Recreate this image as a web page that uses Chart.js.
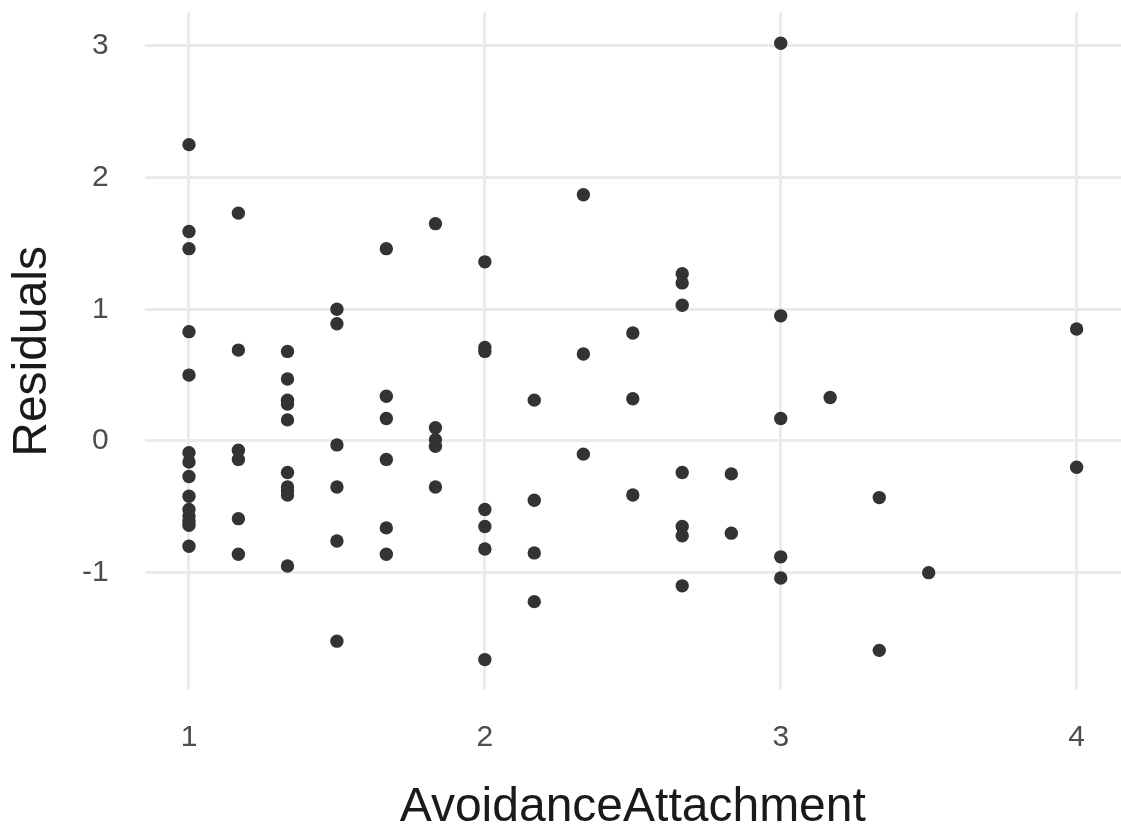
<!DOCTYPE html>
<html>
<head>
<meta charset="utf-8">
<script src="https://cdn.jsdelivr.net/npm/chart.js@4"></script>
<style>
  html, body { margin: 0; padding: 0; background: #ffffff; }
  #wrap { width: 1121px; height: 832px; }
</style>
</head>
<body>
<div id="wrap"><canvas id="c" width="1121" height="832"></canvas></div>
<script>
// Residuals against avoidance attachment score
const xTicks = [1, 2, 3, 4];
const yTicks = [-1, 0, 1, 2, 3];

const avoidance = [
  1, 1, 1, 1, 1, 1, 1, 1, 1, 1, 1, 1, 1, 1,
  1.167, 1.167, 1.167, 1.167, 1.167, 1.167,
  1.333, 1.333, 1.333, 1.333, 1.333, 1.333, 1.333, 1.333, 1.333, 1.333,
  1.5, 1.5, 1.5, 1.5, 1.5, 1.5,
  1.667, 1.667, 1.667, 1.667, 1.667, 1.667,
  1.833, 1.833, 1.833, 1.833, 1.833,
  2, 2, 2, 2, 2, 2, 2,
  2.167, 2.167, 2.167, 2.167,
  2.333, 2.333, 2.333,
  2.5, 2.5, 2.5,
  2.667, 2.667, 2.667, 2.667, 2.667, 2.667, 2.667,
  2.833, 2.833,
  3, 3, 3, 3, 3,
  3.167,
  3.333, 3.333,
  3.5,
  4, 4
];

const residuals = [
  2.25, 1.59, 1.46, 0.83, 0.50, -0.09, -0.16, -0.27, -0.42, -0.52, -0.57, -0.61, -0.64, -0.80,
  1.73, 0.69, -0.07, -0.14, -0.59, -0.86,
  0.68, 0.47, 0.31, 0.28, 0.16, -0.24, -0.35, -0.38, -0.41, -0.95,
  1.00, 0.89, -0.03, -0.35, -0.76, -1.52,
  1.46, 0.34, 0.17, -0.14, -0.66, -0.86,
  1.65, 0.10, 0.01, -0.04, -0.35,
  1.36, 0.71, 0.68, -0.52, -0.65, -0.82, -1.66,
  0.31, -0.45, -0.85, -1.22,
  1.87, 0.66, -0.10,
  0.82, 0.32, -0.41,
  1.27, 1.20, 1.03, -0.24, -0.65, -0.72, -1.10,
  -0.25, -0.70,
  3.02, 0.95, 0.17, -0.88, -1.04,
  0.33,
  -0.43, -1.59,
  -1.00,
  0.85, -0.20
];

const points = avoidance.map((x, i) => ({ x: x, y: residuals[i] }));

const gridColor = '#EBEBEB';
const tickColor = '#4D4D4D';
const fontFamily = '"Liberation Sans", Arial, Helvetica, sans-serif';

// keep the panel edges where the layout box puts them (no label overhang padding)
function noOverhang(s) {
  s.paddingTop = 0;
  s.paddingBottom = 0;
  s.paddingLeft = 0;
  s.paddingRight = 0;
}

new Chart(document.getElementById('c'), {
  type: 'scatter',
  data: {
    datasets: [{
      data: points,
      backgroundColor: '#333333',
      borderWidth: 0,
      pointRadius: 6.7,
      pointHoverRadius: 6.7
    }]
  },
  options: {
    responsive: false,
    animation: false,
    events: [],
    layout: {
      autoPadding: false,
      padding: { top: 12.4, right: 0, bottom: 0, left: 0 }
    },
    plugins: {
      legend: { display: false },
      tooltip: { enabled: false }
    },
    scales: {
      x: {
        type: 'linear',
        min: 0.85,
        max: 4.15,
        afterBuildTicks: s => { s.ticks = xTicks.map(v => ({ value: v })); },
        afterFit: s => { s.height = 141.6; noOverhang(s); },
        grid: { color: gridColor, lineWidth: 3, drawTicks: false },
        border: { display: false },
        ticks: {
          color: tickColor,
          padding: 29,
          maxRotation: 0,
          font: { family: fontFamily, size: 30 },
          callback: v => String(v)
        },
        title: {
          display: true,
          text: 'AvoidanceAttachment',
          color: '#1A1A1A',
          padding: { top: 0, bottom: 0 },
          font: { family: fontFamily, size: 48, lineHeight: 1.0 }
        }
      },
      y: {
        type: 'linear',
        min: -1.894,
        max: 3.254,
        afterBuildTicks: s => { s.ticks = yTicks.map(v => ({ value: v })); },
        afterFit: s => { s.width = 144.6; noOverhang(s); },
        grid: { color: gridColor, lineWidth: 3, drawTicks: false },
        border: { display: false },
        ticks: {
          color: tickColor,
          padding: 36,
          font: { family: fontFamily, size: 30 },
          callback: v => String(v)
        },
        title: {
          display: true,
          text: 'Residuals',
          color: '#1A1A1A',
          padding: { top: 9, bottom: 0 },
          font: { family: fontFamily, size: 48, lineHeight: 1.0 }
        }
      }
    }
  }
});
</script>
</body>
</html>
